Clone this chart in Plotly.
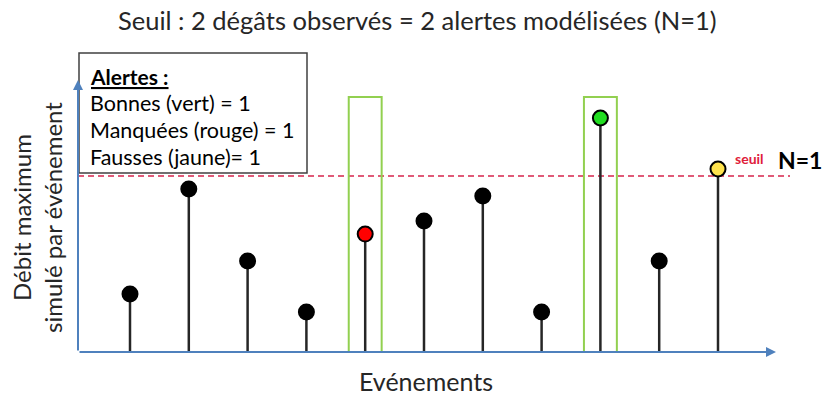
import plotly.graph_objects as go

# ---- data ----
events = [1, 2, 3, 4, 5, 6, 7, 8, 9, 10, 11]
debit = [1.93, 5.43, 3.03, 1.33, 3.93, 4.37, 5.20, 1.33, 7.80, 3.03, 6.10]
statut = ["normal", "normal", "normal", "normal", "manquee", "normal",
          "normal", "normal", "bonne", "normal", "fausse"]
seuil = 5.87
observed_damage = [5, 9]
damage_box_top = 8.5
legend_lines = ["Bonnes (vert) = 1", "Manquées (rouge) = 1", "Fausses (jaune)= 1"]

colors_map = {"normal": "#000000", "manquee": "#FF0000", "bonne": "#22DD22", "fausse": "#FFE34D"}

W, H = 826, 399
# pixel <-> data conversion for the frame (layout only)
X0, DX = 130.0, 58.8   # pixel of event 1, pixel per event
Y0, DY = 352.0, 30.0   # pixel of y=0, pixel per unit
def px2x(p): return 1 + (p - X0) / DX
def py2y(p): return (Y0 - p) / DY
def pxp(p): return p / W
def pyp(p): return 1 - p / H

fig = go.Figure()

# stems
sx, sy = [], []
for e, v in zip(events, debit):
    sx += [e, e, None]
    sy += [0, v, None]
fig.add_trace(go.Scatter(x=sx, y=sy, mode="lines",
                         line=dict(color="#262626", width=2.5),
                         hoverinfo="skip", showlegend=False))

# markers
fig.add_trace(go.Scatter(x=events, y=debit, mode="markers",
                         marker=dict(size=15, color=[colors_map[s] for s in statut],
                                     line=dict(color="#000000", width=2)),
                         showlegend=False))

shapes = []
# threshold dashed line
shapes.append(dict(type="line", xref="x", yref="y", x0=px2x(78), x1=px2x(790),
                   y0=seuil, y1=seuil, line=dict(color="#E05A78", width=2, dash="6px,4px"),
                   layer="below"))
# observed damage boxes
for e in observed_damage:
    shapes.append(dict(type="rect", xref="x", yref="y", x0=e - 0.28, x1=e + 0.28,
                       y0=0, y1=damage_box_top, line=dict(color="#92D050", width=2),
                       fillcolor="rgba(0,0,0,0)"))
# legend box
shapes.append(dict(type="rect", xref="x", yref="y", x0=px2x(79), x1=px2x(307),
                   y0=py2y(173), y1=py2y(53), line=dict(color="#404040", width=1.5),
                   fillcolor="white", layer="above"))

annotations = []
axis_col = "#4F81BD"
# x axis arrow
annotations.append(dict(x=px2x(776), y=0, ax=px2x(78), ay=0, xref="x", yref="y",
                        axref="x", ayref="y", text="", showarrow=True, arrowhead=2,
                        arrowsize=1, arrowwidth=2, arrowcolor=axis_col))
# y axis arrow
annotations.append(dict(x=px2x(78), y=py2y(80), ax=px2x(78), ay=0, xref="x", yref="y",
                        axref="x", ayref="y", text="", showarrow=True, arrowhead=2,
                        arrowsize=1, arrowwidth=2, arrowcolor=axis_col))

font = "Lato, 'Open Sans', sans-serif"
txt_col = "#262626"
# title
annotations.append(dict(x=pxp(417), y=pyp(20), xref="paper", yref="paper",
                        text="Seuil : 2 dégâts observés = 2 alertes modélisées (N=1)",
                        showarrow=False, font=dict(family=font, size=25.5, color=txt_col),
                        xanchor="center", yanchor="middle"))
# axis titles
annotations.append(dict(x=pxp(426), y=pyp(381), xref="paper", yref="paper",
                        text="Evénements", showarrow=False,
                        font=dict(family=font, size=25, color=txt_col),
                        xanchor="center", yanchor="middle"))
annotations.append(dict(x=pxp(21), y=pyp(218), xref="paper", yref="paper",
                        text="Débit maximum", showarrow=False, textangle=-90,
                        font=dict(family=font, size=24, color=txt_col),
                        xanchor="center", yanchor="middle"))
annotations.append(dict(x=pxp(52), y=pyp(218), xref="paper", yref="paper",
                        text="simulé par événement", showarrow=False, textangle=-90,
                        font=dict(family=font, size=24, color=txt_col),
                        xanchor="center", yanchor="middle"))
# legend text
annotations.append(dict(x=pxp(88), y=pyp(76), xref="paper", yref="paper",
                        text="<b><u>Alertes :</u></b>", showarrow=False,
                        font=dict(family=font, size=21, color="#000000"),
                        xanchor="left", yanchor="middle"))
for i, t in enumerate(legend_lines):
    annotations.append(dict(x=pxp(88), y=pyp(103 + 27 * i), xref="paper", yref="paper",
                            text=t, showarrow=False,
                            font=dict(family=font, size=21.5, color="#000000"),
                            xanchor="left", yanchor="middle"))
# seuil / N=1
annotations.append(dict(x=pxp(733), y=pyp(158), xref="paper", yref="paper",
                        text="<b>seuil</b>", showarrow=False,
                        font=dict(family=font, size=14, color="#E0203A"),
                        xanchor="left", yanchor="middle"))
annotations.append(dict(x=pxp(776), y=pyp(160), xref="paper", yref="paper",
                        text="<b>N=1</b>", showarrow=False,
                        font=dict(family=font, size=23, color="#000000"),
                        xanchor="left", yanchor="middle"))

fig.update_layout(
    width=W, height=H,
    margin=dict(l=0, r=0, t=0, b=0),
    paper_bgcolor="white", plot_bgcolor="white",
    xaxis=dict(range=[px2x(0), px2x(W)], visible=False, fixedrange=True),
    yaxis=dict(range=[py2y(H), py2y(0)], visible=False, fixedrange=True),
    shapes=shapes, annotations=annotations, showlegend=False,
)

fig.write_html("out.html", config={"displayModeBar": False},
               post_script="document.body.style.margin='0';document.body.style.overflow='hidden';")
